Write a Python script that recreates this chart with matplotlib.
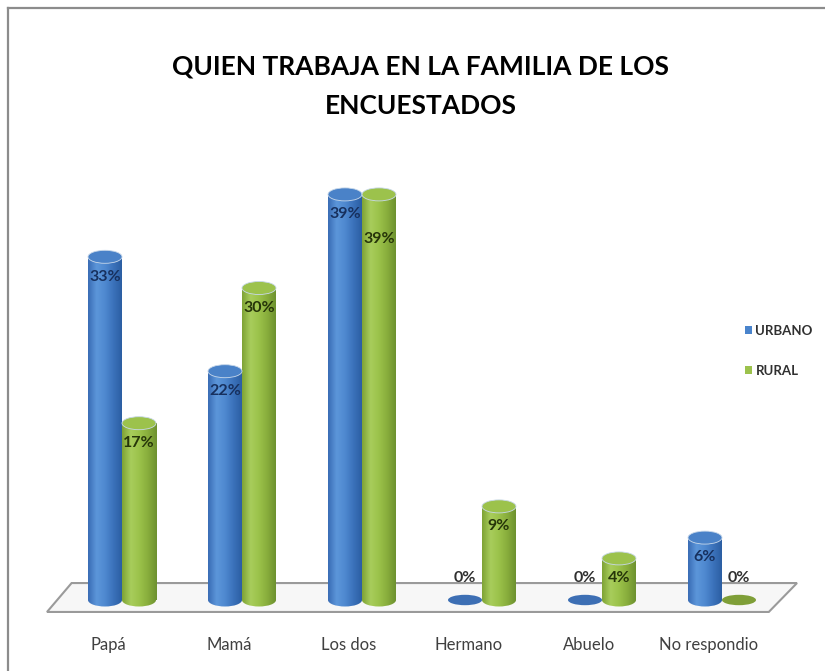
import numpy as np
import matplotlib
matplotlib.use("Agg")
import matplotlib.pyplot as plt
from matplotlib.patches import Rectangle, Ellipse, Polygon, Patch
from matplotlib.colors import LinearSegmentedColormap
from matplotlib.lines import Line2D

# Chart data
categories = ["Papá", "Mamá", "Los dos", "Hermano", "Abuelo", "No respondio"]
urbano = [33, 22, 39, 0, 0, 6]
rural = [17, 30, 39, 9, 4, 0]
series_names = ["URBANO", "RURAL"]
title = "QUIEN TRABAJA EN LA FAMILIA DE LOS\nENCUESTADOS"

FONT = ["Lato", "DejaVu Sans"]
plt.rcParams["font.family"] = FONT

blue_cmap = LinearSegmentedColormap.from_list(
    "b", ["#3a6db5", "#5c96da", "#4f89d0", "#3b72bb", "#2c5fa3"])
green_cmap = LinearSegmentedColormap.from_list(
    "g", ["#7fa336", "#a8cd5c", "#9bc24a", "#88ad3c", "#6e9230"])
styles = [
    dict(cmap=blue_cmap, top="#4a82c8", flat="#3d6fb4", text="#17305e"),
    dict(cmap=green_cmap, top="#9cc24c", flat="#7f9f38", text="#263509"),
]

W, H = 825, 671
fig = plt.figure(figsize=(W / 100, H / 100), dpi=100)
ax = fig.add_axes([0, 0, 1, 1])
ax.axis("off")

# pixel layout -> data limits
x0_px, step_px = 122, 120
base_px, px_per_pct = 600, 10.4
xlim = (-x0_px / step_px, (W - x0_px) / step_px)
ylim = ((base_px - H) / px_per_pct, base_px / px_per_pct)

n = len(categories)
bw = 34 / step_px
eh = 13 / px_per_pct
grad = np.linspace(0, 1, 64).reshape(1, -1)

# floor
floor = Polygon([(-0.625, -1.15), (-0.42, 1.63), (n - 1 + 0.625, 1.63),
                 (n - 1 + 0.39, -1.15)], closed=True,
                facecolor="#f7f7f7", edgecolor="#9a9a9a", lw=1.5, zorder=1)
ax.add_patch(floor)


def cylinder(xc, v, st):
    left = xc - bw / 2
    if v <= 0:
        ax.add_patch(Ellipse((xc, 0), bw, eh * 0.8, facecolor=st["flat"],
                             edgecolor="none", zorder=3))
        return
    body = Rectangle((left, 0), bw, v, facecolor="none", edgecolor="none")
    ax.add_patch(body)
    im = ax.imshow(grad, cmap=st["cmap"], extent=[left, left + bw, 0, v],
                   aspect="auto", zorder=3, interpolation="bilinear")
    im.set_clip_path(body)
    bottom = Ellipse((xc, 0), bw, eh, facecolor="none", edgecolor="none")
    ax.add_patch(bottom)
    im2 = ax.imshow(grad, cmap=st["cmap"],
                    extent=[left, left + bw, -eh / 2, eh / 2],
                    aspect="auto", zorder=3, interpolation="bilinear")
    im2.set_clip_path(bottom)
    ax.add_patch(Ellipse((xc, v), bw, eh, facecolor=st["top"],
                         edgecolor="#c8d8ea", lw=0.6, zorder=4))


for i in range(n):
    vals = [urbano[i], rural[i]]
    for s, v in enumerate(vals):
        xc = i + (s - 0.5) * bw
        cylinder(xc, v, styles[s])
        if v > 0:
            ly = v - 1.9
            if s == 1 and abs(vals[0] - vals[1]) < 3:
                ly -= 2.4
        else:
            ly = 2.1
        ax.text(xc, ly, f"{v}%", ha="center", va="center", fontsize=11.5,
                fontweight="bold", color=styles[s]["text"] if v > 0 else "#303030",
                zorder=6)
    ax.text(i - 0.11, -4.33, categories[i], ha="center", va="center",
            fontsize=12, color="#404040")

ax.set_xlim(*xlim)
ax.set_ylim(*ylim)

# title
fig.text(421 / W, 1 - 86 / H, title, ha="center", va="center", fontsize=19,
         fontweight="bold", color="#000000", linespacing=1.75)

# legend
handles = [Patch(facecolor="#4a84cc", edgecolor="none"),
           Patch(facecolor="#9cc24c", edgecolor="none")]
fig.legend(handles, series_names, loc="upper left",
           bbox_to_anchor=(733 / W, 1 - 313 / H), frameon=False,
           handlelength=0.55, handleheight=0.55, handletextpad=0.25,
           labelspacing=2.1, prop=dict(family=FONT, size=9.5, weight="bold"),
           labelcolor="#303030")

# outer frame (top and left edges visible)
fig.add_artist(Line2D([8 / W, 1], [1 - 8 / H, 1 - 8 / H], color="#8c8c8c", lw=1.6))
fig.add_artist(Line2D([8 / W, 8 / W], [0, 1 - 8 / H], color="#8c8c8c", lw=1.6))

fig.savefig("out.png", dpi=100)
